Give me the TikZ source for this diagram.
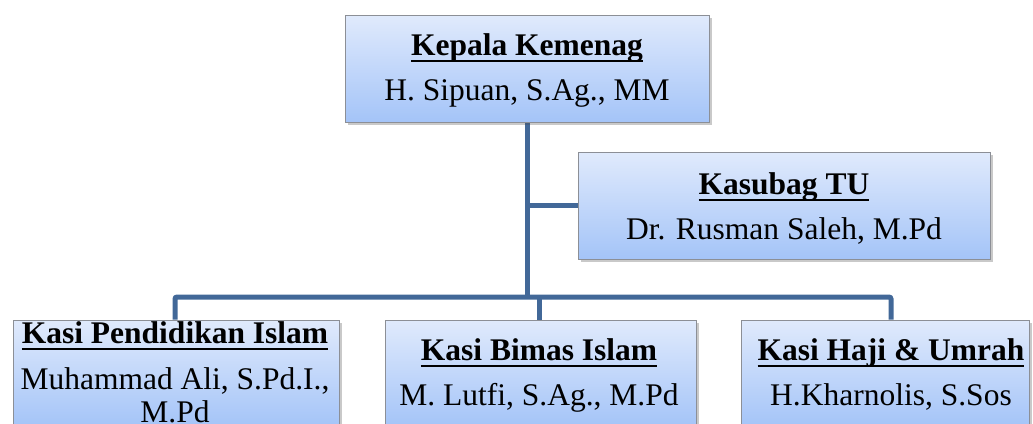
\documentclass[tikz,border=0pt]{standalone}
\usepackage{fontspec}
\setmainfont{Liberation Serif}
\usetikzlibrary{shadows,backgrounds}
\definecolor{lineblue}{RGB}{66,104,152}
\definecolor{boxtop}{RGB}{224,234,252}
\definecolor{boxbot}{RGB}{164,196,248}
\definecolor{boxedge}{RGB}{140,143,150}
\newcommand\hdul[1]{\setbox0\hbox{\bfseries #1}\rlap{\rule[-7.2pt]{\wd0}{2.3pt}}\box0}
\begin{document}
\begin{tikzpicture}[x=1pt,y=-1pt,
  box/.style={draw=boxedge, line width=0.9pt, top color=boxtop, bottom color=boxbot,
    drop shadow={shadow xshift=2.5pt, shadow yshift=-2.5pt, opacity=0.3, fill=black!70},
    inner sep=0pt, minimum height=107pt},
  txt/.style={inner sep=0pt, anchor=base, font=\fontsize{31.5}{40}\selectfont},
  conn/.style={draw=lineblue, line width=5pt, rounded corners=2pt}]
\useasboundingbox (0,0) rectangle (1033,423);
\clip (0,0) rectangle (1033,423);
% boxes
\node[box, minimum width=364pt] (top) at (527,68.5) {};
\node[box, minimum width=412pt] (kas) at (784,205.5) {};
\node[box, minimum width=326pt] (pend) at (176,373.5) {};
\node[box, minimum width=311pt] (bimas) at (540.5,373.5) {};
\node[box, minimum width=288pt] (haji) at (885,373.5) {};
\coordinate (junc) at (527,297);
% connectors (behind the boxes)
\begin{scope}[on background layer]
\draw[conn] (top.south) -- (junc);
\draw[conn] (top.south |- kas.west) -- (kas.west);
\draw[conn] ([xshift=-1pt]pend.north) |- (junc) -| ([xshift=6pt]haji.north);
\draw[conn] ([xshift=-1.5pt]bimas.north) -- ([xshift=-1.5pt]bimas.north |- junc);
\end{scope}
% texts
\node[txt] (topH) at (527,55) {\hdul{Kepala Kemenag}};
\node[txt] (topN) at (527,100) {H. Sipuan, S.Ag., MM};
\node[txt] (kasH) at (784,194) {\hdul{Kasubag TU}};
\node[txt] (kasN) at (784,239) {Dr. Rusman Saleh, M.Pd};
\node[txt] (pendH) at (175,343) {\hdul{Kasi Pendidikan Islam}};
\node[txt] (pendN1) at (175,389) {Muhammad Ali, S.Pd.I.,};
\node[txt] (pendN2) at (175,422) {M.Pd};
\node[txt] (bimasH) at (539,360) {\hdul{Kasi Bimas Islam}};
\node[txt] (bimasN) at (539,405) {M. Lutfi, S.Ag., M.Pd};
\node[txt] (hajiH) at (891,360) {\hdul{Kasi Haji \& Umrah}};
\node[txt] (hajiN) at (891,405) {H.Kharnolis, S.Sos};
\end{tikzpicture}
\end{document}
